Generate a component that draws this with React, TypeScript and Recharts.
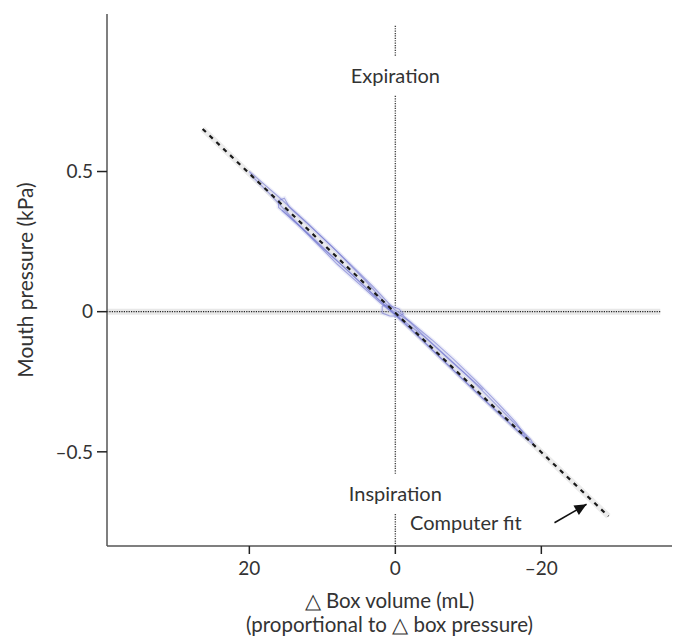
import { ReferenceDot, ReferenceLine, Scatter, ScatterChart, XAxis, YAxis } from "recharts";

const xTicks = [20, 0, -20];
const yTicks = [-0.5, 0, 0.5];
const xDomain = [-37.9, 39.5];
const yDomain = [-0.836, 1.062];

// computer fit through the loops
const fitLine = [
  { x: 26.4, y: 0.652 },
  { x: -29.2, y: -0.73 }
];

// breathing loops (box volume vs mouth pressure)
const breathA = [
  { x: 0, y: 0.005 }, { x: 3, y: 0.088 }, { x: 6, y: 0.165 }, { x: 9, y: 0.24 }, { x: 12, y: 0.313 },
  { x: 14.5, y: 0.372 }, { x: 15.2, y: 0.405 }, { x: 16, y: 0.396 }, { x: 16, y: 0.372 },
  { x: 13, y: 0.302 }, { x: 10, y: 0.228 }, { x: 7, y: 0.158 }, { x: 4, y: 0.085 }, { x: 1, y: 0.012 },
  { x: -2, y: -0.058 }, { x: -5, y: -0.135 }, { x: -8, y: -0.21 }, { x: -11, y: -0.285 },
  { x: -14, y: -0.36 }, { x: -17, y: -0.432 }, { x: -19, y: -0.476 }, { x: -18.5, y: -0.455 },
  { x: -16, y: -0.39 }, { x: -13, y: -0.31 }, { x: -10, y: -0.232 }, { x: -7, y: -0.16 },
  { x: -4, y: -0.088 }, { x: -1, y: -0.012 }, { x: 0, y: 0.005 }
];
const breathB = [
  { x: 0.5, y: 0.005 }, { x: 4, y: 0.108 }, { x: 8, y: 0.215 }, { x: 12, y: 0.315 }, { x: 16, y: 0.41 },
  { x: 18, y: 0.455 }, { x: 20, y: 0.5 }, { x: 19.5, y: 0.48 }, { x: 17, y: 0.415 }, { x: 14, y: 0.33 },
  { x: 11, y: 0.25 }, { x: 8, y: 0.17 }, { x: 5, y: 0.1 }, { x: 2, y: 0.03 }, { x: 0, y: -0.012 },
  { x: -3, y: -0.085 }, { x: -6, y: -0.16 }, { x: -9, y: -0.235 }, { x: -12, y: -0.31 },
  { x: -15, y: -0.38 }, { x: -17, y: -0.43 }, { x: -18, y: -0.45 }, { x: -16.5, y: -0.395 },
  { x: -14, y: -0.325 }, { x: -11, y: -0.245 }, { x: -8, y: -0.17 }, { x: -5, y: -0.1 },
  { x: -2, y: -0.035 }, { x: 0.5, y: 0.005 }
];
const breathC = [
  { x: 1.8, y: 0.02 }, { x: 1, y: 0.024 }, { x: -0.5, y: 0.01 }, { x: -1.1, y: -0.008 },
  { x: -0.5, y: -0.016 }, { x: 0.8, y: -0.015 }, { x: 1.8, y: -0.005 }, { x: 1.8, y: 0.02 }
];
const breathD = [
  { x: 15.5, y: 0.362 }, { x: 12, y: 0.28 }, { x: 9, y: 0.206 }, { x: 6, y: 0.134 }, { x: 3, y: 0.06 },
  { x: 0, y: -0.01 }, { x: -4, y: -0.09 }, { x: -8, y: -0.185 }, { x: -12, y: -0.278 }
];

const zeroVolumeSegments = [
  [1.02, 0.91],
  [0.77, -0.58],
  [-0.722, -0.836]
];
const zeroPressureSpan = [39.5, -36.3];
const phaseLabels = [
  { text: "Expiration", x: 0, y: 0.84 },
  { text: "Inspiration", x: 0, y: -0.65 }
];
const fitNote = { text: "Computer fit", x: -9.66, y: -0.755 };
const arrowTail = { x: -21.8, y: -0.753 };
const arrowTip = { x: -26.2, y: -0.687 };

const font = "Lato, 'Noto Sans', sans-serif";
const textColor = "#333";
const loopColor = "#7377cf";

const dash = (v: number) => String(v).replace("-", "–");
const noDot = () => <g />;

function XTitle(props: any) {
  const { x, y, width } = props.viewBox;
  const cx = x + width / 2;
  return (
    <text fontFamily={font} fontSize={20.5} fill={textColor} textAnchor="middle">
      <tspan x={cx} y={y + 54} dominantBaseline="central">△ Box volume (mL)</tspan>
      <tspan x={cx} y={y + 78} dominantBaseline="central">(proportional to △ box pressure)</tspan>
    </text>
  );
}

function YTitle(props: any) {
  const { y, height } = props.viewBox;
  const cy = y + height / 2;
  return (
    <text
      x={24}
      y={cy}
      transform={`rotate(-90 24 ${cy})`}
      fontFamily={font}
      fontSize={21}
      fill={textColor}
      textAnchor="middle"
      dominantBaseline="central"
    >
      Mouth pressure (kPa)
    </text>
  );
}

function ArrowHead(props: any) {
  const { cx, cy } = props;
  return (
    <polygon
      points="0,0 -12,-5.5 -12,5.5"
      fill="#111"
      transform={`translate(${cx},${cy}) rotate(-29.7)`}
    />
  );
}

const loops = [breathA, breathB, breathC, breathD];

export default function App() {
  return (
    <div style={{ width: 678, height: 637 }}>
      <style>{`body{margin:0;background:#fff}`}</style>
      <ScatterChart width={678} height={637} margin={{ top: 14, right: 6, bottom: 0, left: 0 }}>
        <XAxis
          type="number"
          dataKey="x"
          domain={xDomain}
          ticks={xTicks}
          reversed
          allowDataOverflow
          height={91}
          tickSize={8}
          tickMargin={8}
          tickFormatter={dash}
          stroke="#555"
          strokeWidth={1.5}
          tick={{ fill: textColor, fontFamily: font, fontSize: 19 }}
          tickLine={{ stroke: "#222", strokeWidth: 1.5 }}
          label={<XTitle />}
        />
        <YAxis
          type="number"
          dataKey="y"
          domain={yDomain}
          ticks={yTicks}
          allowDataOverflow
          width={107}
          tickSize={10}
          tickMargin={4}
          tickFormatter={dash}
          stroke="#555"
          strokeWidth={1.5}
          tick={{ fill: textColor, fontFamily: font, fontSize: 19 }}
          tickLine={{ stroke: "#222", strokeWidth: 1.5 }}
          label={<YTitle />}
        />

        <ReferenceLine
          segment={[{ x: zeroPressureSpan[0], y: 0 }, { x: zeroPressureSpan[1], y: 0 }]}
          stroke="#e8e8e8"
          strokeWidth={6}
          ifOverflow="visible"
        />
        <ReferenceLine
          segment={[{ x: zeroPressureSpan[0], y: 0 }, { x: zeroPressureSpan[1], y: 0 }]}
          stroke="#222"
          strokeWidth={1.3}
          strokeDasharray="1.2 1.2"
          ifOverflow="visible"
        />
        {zeroVolumeSegments.map((s, i) => (
          <ReferenceLine
            key={i}
            segment={[{ x: 0, y: s[0] }, { x: 0, y: s[1] }]}
            stroke="#444"
            strokeWidth={1.4}
            strokeDasharray="1.2 1.2"
            ifOverflow="visible"
          />
        ))}

        <Scatter data={fitLine} shape={noDot} line={{ stroke: "#ececec", strokeWidth: 6 }} isAnimationActive={false} />
        {loops.map((d, i) => (
          <Scatter
            key={"h" + i}
            data={d}
            shape={noDot}
            line={{ stroke: "#c8caf0", strokeWidth: 4, strokeOpacity: 0.3 }}
            isAnimationActive={false}
          />
        ))}
        {loops.map((d, i) => (
          <Scatter
            key={"l" + i}
            data={d}
            shape={noDot}
            line={{ stroke: loopColor, strokeWidth: 1.1, strokeOpacity: 0.6 }}
            isAnimationActive={false}
          />
        ))}
        <Scatter
          data={fitLine}
          shape={noDot}
          line={{ stroke: "#1a1a1a", strokeWidth: 2.2, strokeDasharray: "4.5 5" }}
          isAnimationActive={false}
        />

        {phaseLabels.map((p) => (
          <ReferenceDot
            key={p.text}
            x={p.x}
            y={p.y}
            r={0}
            fill="none"
            stroke="none"
            ifOverflow="visible"
            label={{ value: p.text, position: "center", fill: textColor, fontFamily: font, fontSize: 20 }}
          />
        ))}
        <ReferenceDot
          x={fitNote.x}
          y={fitNote.y}
          r={0}
          fill="none"
          stroke="none"
          ifOverflow="visible"
          label={{ value: fitNote.text, position: "center", fill: textColor, fontFamily: font, fontSize: 20 }}
        />
        <ReferenceLine
          segment={[arrowTail, arrowTip]}
          stroke="#111"
          strokeWidth={1.5}
          ifOverflow="visible"
        />
        <ReferenceDot x={arrowTip.x} y={arrowTip.y} r={1} shape={ArrowHead} ifOverflow="visible" />
      </ScatterChart>
    </div>
  );
}
